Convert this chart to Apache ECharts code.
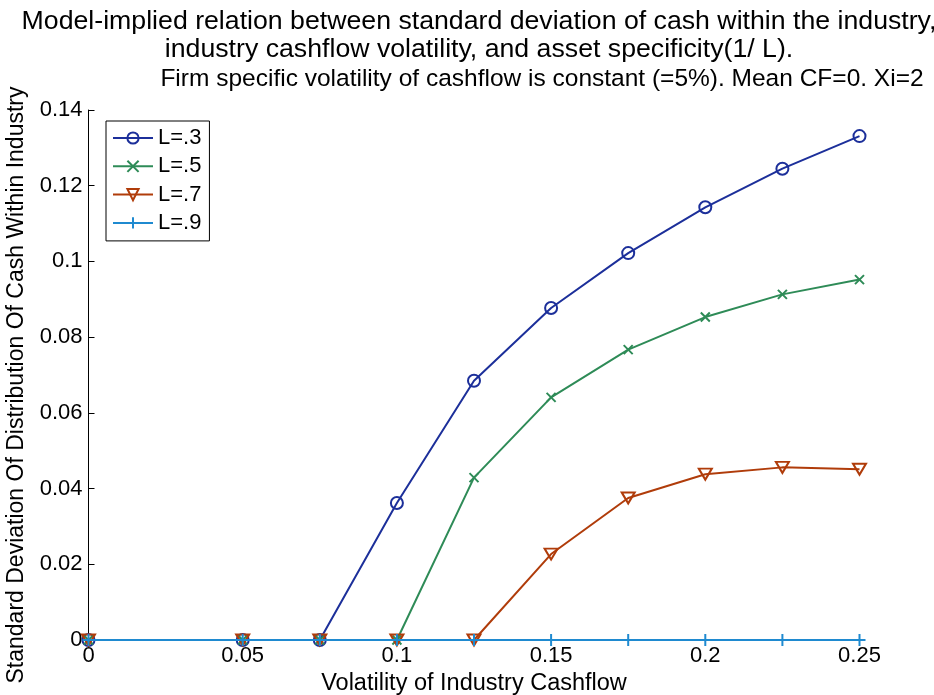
<!DOCTYPE html>
<html>
<head>
<meta charset="utf-8">
<script src="https://cdn.jsdelivr.net/npm/echarts@6/dist/echarts.min.js"></script>
<style>
html,body{margin:0;padding:0;background:#fff;}
#chart{width:934px;height:695px;}
</style>
</head>
<body>
<div id="chart"></div>
<script>
// ---- data ----
const xValues = [0, 0.05, 0.075, 0.1, 0.125, 0.15, 0.175, 0.2, 0.225, 0.25];
const seriesNames = ['L=.3', 'L=.5', 'L=.7', 'L=.9'];
const valsL3 = [0, 0, 0, 0.0362, 0.0685, 0.0877, 0.1022, 0.1143, 0.1245, 0.1331];
const valsL5 = [0, 0, 0, 0, 0.0429, 0.0641, 0.0767, 0.0853, 0.0913, 0.0952];
const valsL7 = [0, 0, 0, 0, 0, 0.0227, 0.0375, 0.0438, 0.0456, 0.0451];
const valsL9 = [0, 0, 0, 0, 0, 0, 0, 0, 0, 0];
const titleLines12 = 'Model-implied relation between standard deviation of cash within the industry,\nindustry cashflow volatility, and asset specificity(1/ L).';
const titleLine3 = 'Firm specific volatility of cashflow is constant (=5%). Mean CF=0. Xi=2';
const xAxisName = 'Volatility of Industry Cashflow';
const yAxisName = 'Standard Deviation Of Distribution Of Cash Within Industry';

const FONT = 'Liberation Sans, Arial, Helvetica, sans-serif';
const colors = ['#1c2f9a', '#2e8b57', '#b03c0a', '#1f8ad0'];
const symbols = [
  'circle',
  'path://M0,0L10,10M10,0L0,10',
  'path://M0,0L12,0L6,10Z',
  'path://M5,0L5,10M0,5L10,5'
];
const symbolSizes = [12, 9, [13, 11], 12];
const allVals = [valsL3, valsL5, valsL7, valsL9];

function pairs(vals) { return xValues.map((x, i) => [x, vals[i]]); }

const series = seriesNames.map((name, k) => ({
  name: name,
  type: 'line',
  data: pairs(allVals[k]),
  symbol: symbols[k],
  symbolSize: symbolSizes[k],
  showAllSymbol: true,
  clip: false,
  lineStyle: { color: colors[k], width: 2 },
  itemStyle: { color: 'rgba(0,0,0,0)', borderColor: colors[k], borderWidth: 2 },
  emphasis: { disabled: true },
  z: 2 + k
}));

const chart = echarts.init(document.getElementById('chart'), null, { renderer: 'canvas' });
chart.setOption({
  animation: false,
  backgroundColor: '#fff',
  textStyle: { fontFamily: FONT, color: '#000' },
  title: [
    { text: titleLines12, left: 474, top: 2, textAlign: 'center',
      textStyle: { fontFamily: FONT, fontSize: 26.7, fontWeight: 'normal', color: '#000', lineHeight: 28.5 } },
    { text: titleLine3, left: 537, top: 60, textAlign: 'center',
      textStyle: { fontFamily: FONT, fontSize: 24.5, fontWeight: 'normal', color: '#000', lineHeight: 28.5 } }
  ],
  grid: { left: 88.5, right: 74.5, top: 110, bottom: 55, containLabel: false, outerBoundsMode: 'none' },
  legend: {
    orient: 'vertical',
    left: 106, top: 121,
    padding: [6, 8, 7, 6],
    itemWidth: 40, itemHeight: 14, itemGap: 6.3,
    borderColor: '#000', borderWidth: 1, backgroundColor: '#fff',
    textStyle: { fontFamily: FONT, fontSize: 22, color: '#000', lineHeight: 22 },
    data: seriesNames,
    selectedMode: false
  },
  xAxis: {
    type: 'value', min: 0, max: 0.25, interval: 0.05,
    name: xAxisName, nameLocation: 'middle', nameGap: 28,
    nameTextStyle: { fontFamily: FONT, fontSize: 23.5, color: '#000' },
    axisLine: { show: true, lineStyle: { color: '#000', width: 1 } },
    axisTick: { show: true, inside: true, length: 6, lineStyle: { color: '#000' } },
    axisLabel: { fontFamily: FONT, fontSize: 22, color: '#000', margin: 5 },
    splitLine: { show: false }
  },
  yAxis: {
    type: 'value', min: 0, max: 0.14, interval: 0.02,
    name: yAxisName, nameLocation: 'middle', nameGap: 60,
    nameTextStyle: { fontFamily: FONT, fontSize: 23, color: '#000', padding: [0, 20, 0, 0] },
    axisLine: { show: true, lineStyle: { color: '#000', width: 1 } },
    axisTick: { show: true, inside: true, length: 6, lineStyle: { color: '#000' } },
    axisLabel: { fontFamily: FONT, fontSize: 22, color: '#000', margin: 6 },
    splitLine: { show: false }
  },
  series: series
});
</script>
</body>
</html>
